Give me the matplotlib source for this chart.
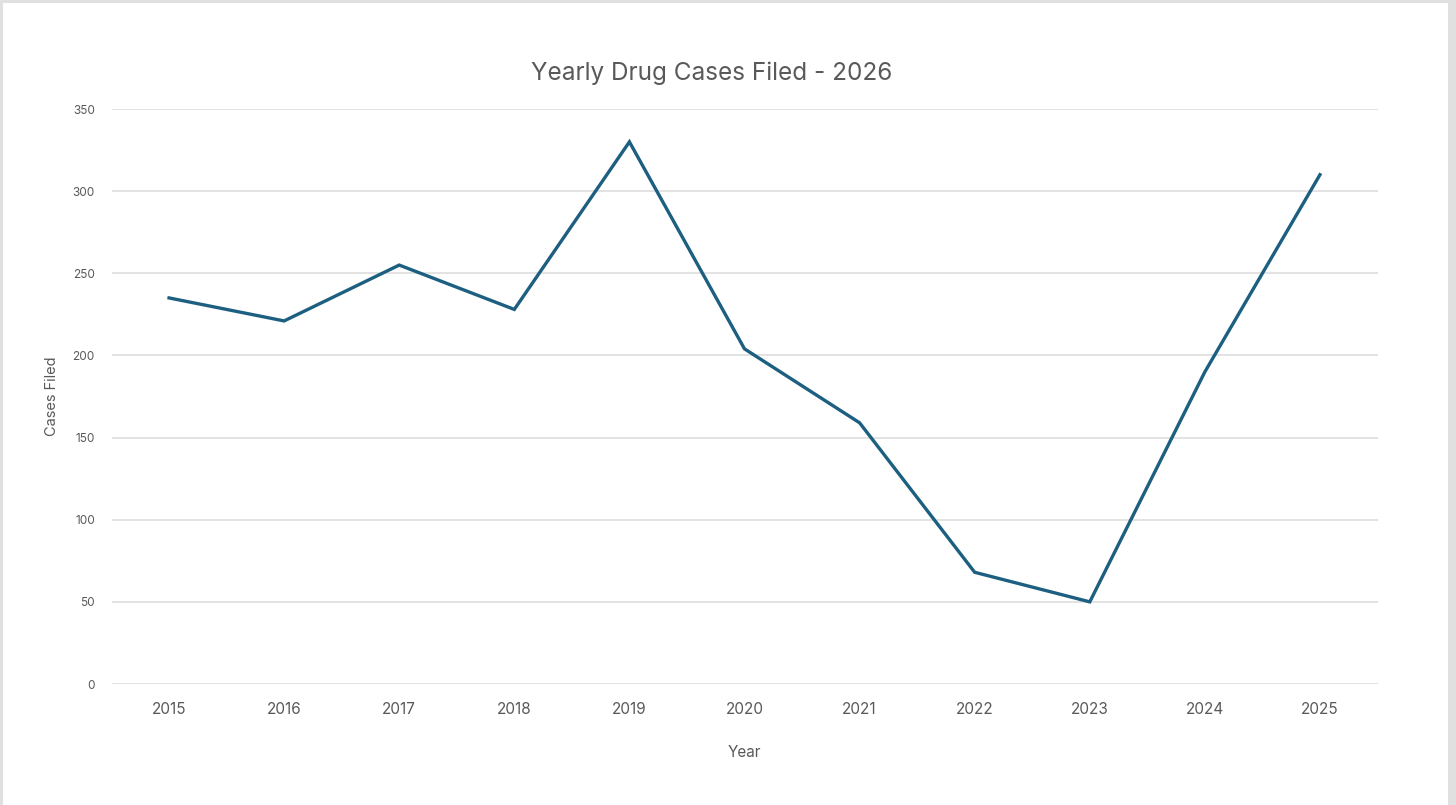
import matplotlib
matplotlib.use("Agg")
import matplotlib.pyplot as plt
from matplotlib.patches import Rectangle

# chart data
years = ["2015", "2016", "2017", "2018", "2019", "2020", "2021", "2022", "2023", "2024", "2025"]
cases = [235, 221, 255, 228, 330, 204, 159, 68, 50, 190, 310]
y_ticks = [0, 50, 100, 150, 200, 250, 300, 350]

plt.rcParams["font.family"] = ["Inter", "DejaVu Sans"]

fig = plt.figure(figsize=(14.56, 8.05), dpi=100)
fig.patch.set_facecolor("white")

# grey frame round the white card
fig.patches.append(Rectangle((0, 0), 1, 1, transform=fig.transFigure,
                             facecolor="#e0e0e0", edgecolor="none", zorder=-2))
fig.patches.append(Rectangle((3 / 1456, 0), (1448 - 3) / 1456, (805 - 3) / 805,
                             transform=fig.transFigure, facecolor="white",
                             edgecolor="none", zorder=-1))

ax = fig.add_axes([111.5 / 1456, 1 - 684 / 805, (1377.5 - 111.5) / 1456, (684 - 109) / 805])
ax.set_facecolor("none")

x = list(range(len(years)))
ax.plot(x, cases, color="#1d5f80", linewidth=2.4, solid_joinstyle="miter", zorder=3)

ax.set_xlim(-0.5, len(years) - 0.5)
ax.set_ylim(0, 350)
ax.set_yticks(y_ticks)
ax.set_xticks(x)
ax.set_xticklabels(years)

for s in ax.spines.values():
    s.set_visible(False)
ax.grid(axis="y", color="#dedede", linewidth=1.2)
ax.set_axisbelow(True)
ax.tick_params(axis="both", length=0)
ax.tick_params(axis="y", labelsize=8.5, labelcolor="#595959", pad=12)
ax.tick_params(axis="x", labelsize=11, labelcolor="#595959", pad=13)

ax.set_xlabel("Year", fontsize=11, color="#595959", labelpad=20)
ax.set_ylabel("Cases Filed", fontsize=10.5, color="#595959", labelpad=10)
fig.text(712 / 1456, 1 - 73 / 805, "Yearly Drug Cases Filed - 2026", fontsize=17.5,
         color="#595959", ha="center", va="center")

fig.savefig("out.png", dpi=100, facecolor=fig.get_facecolor())
